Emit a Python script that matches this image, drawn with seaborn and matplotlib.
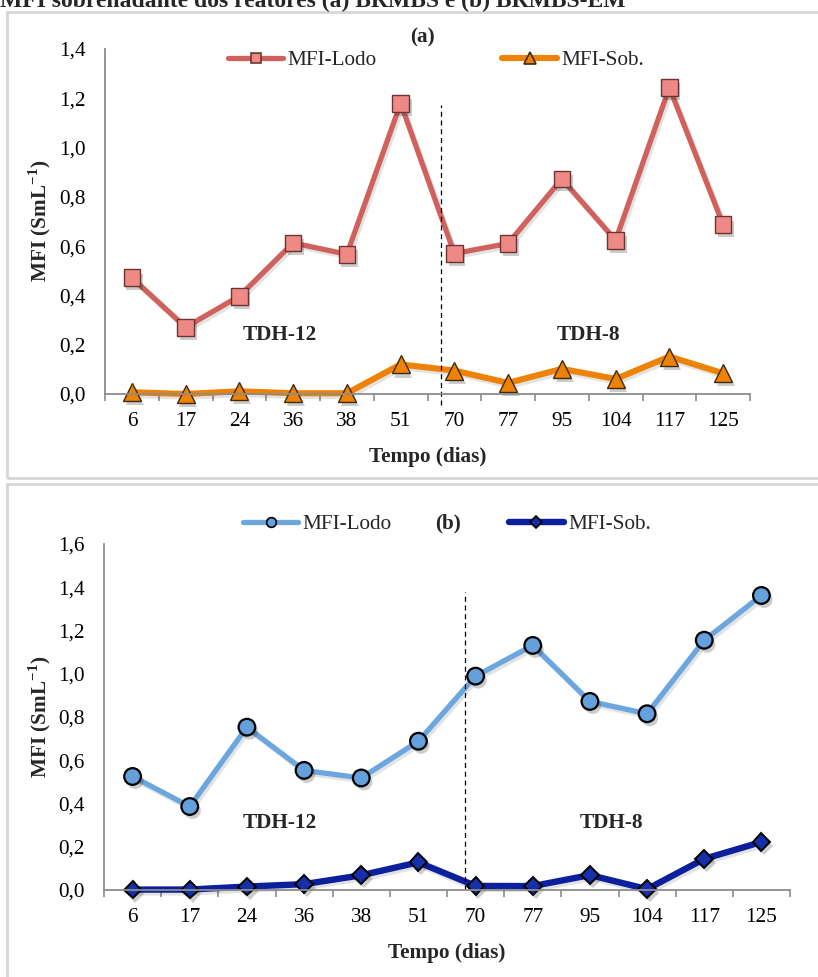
import numpy as np
import pandas as pd
import matplotlib
matplotlib.use("Agg")
import matplotlib.pyplot as plt
import matplotlib.patheffects as pe
from matplotlib.lines import Line2D
from matplotlib.patches import Rectangle
from matplotlib.ticker import FixedLocator
import seaborn as sns

# ---- data -------------------------------------------------------------
dias = ["6", "17", "24", "36", "38", "51", "70", "77", "95", "104", "117", "125"]

lodo_a = [0.472, 0.271, 0.397, 0.613, 0.567, 1.180, 0.570, 0.611, 0.873, 0.624, 1.244, 0.687]
sob_a = [0.007, 0.000, 0.011, 0.003, 0.003, 0.120, 0.095, 0.045, 0.102, 0.061, 0.152, 0.084]

lodo_b = [0.525, 0.386, 0.753, 0.553, 0.518, 0.688, 0.989, 1.131, 0.872, 0.815, 1.155, 1.362]
sob_b = [0.002, 0.002, 0.016, 0.027, 0.068, 0.128, 0.019, 0.018, 0.069, 0.004, 0.144, 0.222]

yticks_a = [0.0, 0.2, 0.4, 0.6, 0.8, 1.0, 1.2, 1.4]
yticks_b = [0.0, 0.2, 0.4, 0.6, 0.8, 1.0, 1.2, 1.4, 1.6]

series_names = ["MFI-Lodo", "MFI-Sob."]
titulo = "MFI sobrenadante dos reatores (a) BRMBS e (b) BRMBS-EM"

# ---- style ------------------------------------------------------------
sns.set_theme(style="white")
plt.rcParams["font.family"] = ["Liberation Serif", "DejaVu Serif"]
plt.rcParams["mathtext.fontset"] = "custom"
plt.rcParams["mathtext.rm"] = "Liberation Serif:bold"
plt.rcParams["mathtext.bf"] = "Liberation Serif:bold"

W, H = 818, 977
fig = plt.figure(figsize=(W / 100, H / 100), dpi=100)
fig.patch.set_facecolor("white")

AXIS_GRAY = "#8c8c8c"
FS = 15.3


def fx(px):
    return px / W


def fy(py):
    return 1 - py / H


def fmt(v):
    return f"{v:.1f}".replace(".", ",")


def panel(box, ymax, yticks, lodo, sob, sty, label, leg_xy, tag_xy, colspace,
          divider, div_span, tdh_pos, ylab_xy, xlab_y):
    left, top, right, bottom = box
    ax = fig.add_axes([fx(left), fy(bottom), fx(right - left), (bottom - top) / H])
    pos = np.arange(len(dias))
    df = pd.DataFrame({"pos": pos, "lodo": lodo, "sob": sob})

    for col, s in (("lodo", sty["lodo"]), ("sob", sty["sob"])):
        sns.lineplot(data=df, x="pos", y=col, ax=ax, sort=False, legend=False,
                     color=s["line"], linewidth=s["lw"], solid_capstyle="round",
                     solid_joinstyle="round", clip_on=False)
        ax.lines[-1].set_path_effects([
            pe.SimpleLineShadow(offset=(1.5, -2), shadow_color="k", alpha=0.12),
            pe.Normal()])
        sns.lineplot(data=df, x="pos", y=col, ax=ax, sort=False, legend=False,
                     linestyle="none", marker=s["marker"], markersize=s["ms"],
                     markerfacecolor=s["face"], markeredgecolor=s["edge"],
                     markeredgewidth=s["mew"], clip_on=False)
        ax.lines[-1].set_path_effects([
            pe.SimplePatchShadow(offset=(2, -3), shadow_rgbFace="k", alpha=0.22),
            pe.Normal()])

    ax.set_xlim(-0.5, len(dias) - 0.5)
    ax.set_ylim(0, ymax)

    # category labels centred, tick marks between categories
    ax.set_xticks(pos)
    ax.set_xticklabels(dias, fontsize=FS)
    ax.xaxis.set_minor_locator(FixedLocator(np.arange(len(dias) + 1) - 0.5))
    ax.tick_params(axis="x", which="major", length=0, pad=13)
    ax.tick_params(axis="x", which="minor", length=5, width=1.2,
                   color=AXIS_GRAY, direction="out")
    ax.set_yticks(yticks)
    ax.set_yticklabels([fmt(v) for v in yticks], fontsize=FS)
    ax.tick_params(axis="y", length=5, width=1.2, color=AXIS_GRAY,
                   direction="out", pad=9)
    ax.tick_params(colors="black", labelcolor="black", which="both", bottom=True)
    ax.tick_params(axis="both", which="both", color=AXIS_GRAY)

    for sp in ("top", "right"):
        ax.spines[sp].set_visible(False)
    for sp in ("left", "bottom"):
        ax.spines[sp].set_color(AXIS_GRAY)
        ax.spines[sp].set_linewidth(1.3)
    ax.set_xlabel("")
    ax.set_ylabel("")
    ax.grid(False)
    ax.set_facecolor("none")

    # division between hydraulic retention times
    ax.axvline(divider, ymin=div_span[0], ymax=div_span[1], color="black",
               lw=0.9, ls=(0, (4, 3)), clip_on=False)
    ax.text(tdh_pos[0][0], tdh_pos[0][1], "TDH-12", ha="center", va="center",
            fontsize=FS, fontweight="bold")
    ax.text(tdh_pos[1][0], tdh_pos[1][1], "TDH-8", ha="center", va="center",
            fontsize=FS, fontweight="bold")

    # axis titles
    fig.text(fx(ylab_xy[0]), fy(ylab_xy[1]), r"MFI (SmL$^{-1}$)", rotation=90,
             ha="center", va="center", fontsize=FS, fontweight="bold")
    fig.text(fx((left + right) / 2), fy(xlab_y), "Tempo (dias)", ha="center",
             va="center", fontsize=FS, fontweight="bold")

    # legend
    handles = []
    for key in ("lodo", "sob"):
        s = sty[key]
        handles.append(Line2D([], [], color=s["line"], lw=s["lw"], marker=s["marker"],
                              ms=s["lms"], markerfacecolor=s["face"],
                              markeredgecolor=s["edge"], markeredgewidth=1.2,
                              solid_capstyle="round"))
    ax.legend(handles, series_names, ncol=2, loc="center left",
              bbox_to_anchor=(fx(leg_xy[0]), fy(leg_xy[1])),
              bbox_transform=fig.transFigure, frameon=False, handlelength=2.6,
              handletextpad=0.2, columnspacing=colspace, borderpad=0,
              borderaxespad=0, fontsize=FS, numpoints=1)
    fig.text(fx(tag_xy[0]), fy(tag_xy[1]), label, ha="center", va="center",
             fontsize=FS, fontweight="bold")
    return ax


style_a = {
    "lodo": dict(line="#D0625E", lw=3.8, marker="s", ms=12, face="#EE8985",
                 edge="#6b3432", mew=1.0, lms=7),
    "sob": dict(line="#EE8205", lw=4.4, marker="^", ms=13, face="#EE8205",
                edge="#3f2a10", mew=1.0, lms=8),
}
style_b = {
    "lodo": dict(line="#6CA6DF", lw=3.8, marker="o", ms=12, face="#63A0DC",
                 edge="black", mew=1.6, lms=7),
    "sob": dict(line="#0C1F9C", lw=4.6, marker="D", ms=9, face="#1530A8",
                edge="black", mew=1.4, lms=6),
}

# panel frames
fig.add_artist(Rectangle((fx(7), fy(478)), fx(W), (478 - 12) / H,
                         transform=fig.transFigure, fill=False, ec="#d6d6d6",
                         lw=2, clip_on=False))
fig.add_artist(Rectangle((fx(7), fy(H + 20)), fx(W), (H + 20 - 484) / H,
                         transform=fig.transFigure, fill=False, ec="#d6d6d6",
                         lw=2, clip_on=False))

fig.text(fx(0), fy(7), titulo, ha="left", va="baseline", fontsize=17,
         fontweight="bold")

panel(box=(105, 49, 750, 394), ymax=1.4, yticks=yticks_a, lodo=lodo_a, sob=sob_a,
      sty=style_a, label="(a)", leg_xy=(228, 60), tag_xy=(422, 37), colspace=5.9,
      divider=5.75, div_span=(-0.032, 0.838),
      tdh_pos=((2.76, 0.24), (8.49, 0.24)), ylab_xy=(40, 221), xlab_y=457)

panel(box=(104, 544, 790, 890), ymax=1.6, yticks=yticks_b, lodo=lodo_b, sob=sob_b,
      sty=style_b, label="(b)", leg_xy=(243, 524), tag_xy=(448, 523), colspace=5.5,
      divider=5.81, div_span=(0.0, 0.861),
      tdh_pos=((2.58, 0.31), (8.37, 0.31)), ylab_xy=(40, 717), xlab_y=953)

fig.savefig("out.png", dpi=100, facecolor="white")
